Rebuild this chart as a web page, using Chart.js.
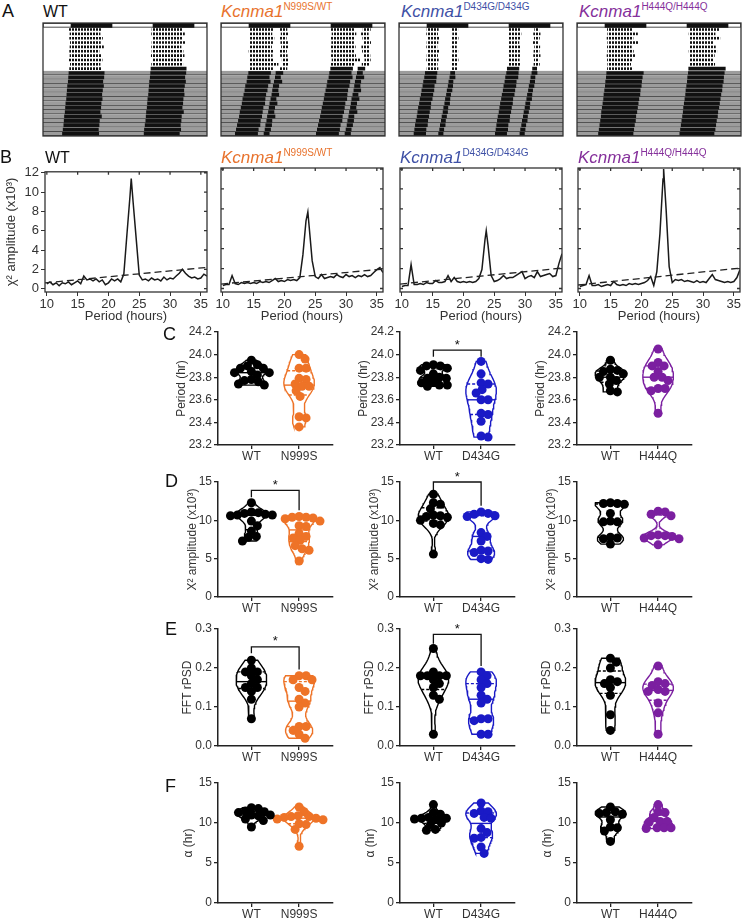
<!DOCTYPE html>
<html>
<head>
<meta charset="utf-8">
<title>Kcnma1 circadian behaviour</title>
<script src="https://cdn.jsdelivr.net/npm/chart.js@4.4.1/dist/chart.umd.min.js"></script>
<style>
  html, body { margin: 0; background: #fff; }
  #fig { position: relative; width: 743px; height: 919px; overflow: hidden; font-family: 'Liberation Sans', Arial, sans-serif; }
  #fig canvas { position: absolute; }
  .t { position: absolute; white-space: nowrap; line-height: 1; }
  .t sup { font-style: normal; font-size: 10px; vertical-align: 0; position: relative; top: -7px; }
</style>
</head>
<body>
<div id="fig"></div>
<script>
const FONT = "'Liberation Sans', Arial, sans-serif";
Chart.defaults.font.family = FONT;
Chart.defaults.color = '#333';

// genotypes
const genoLabels = ['N999S/WT', 'D434G/D434G', 'H444Q/H444Q'];
const titleColors = ['#e8732e', '#3f51a6', '#85309b'];
const mutants = ['N999S', 'D434G', 'H444Q'];
const mutColors = ['#ee7327', '#1a1ac6', '#7b1fa0'];

// ---- A: actograms (hours of activity onset / offset per day, 10 LD then DD)
const ldDays = 10;
const darkStart = [8.2, 32.2];
const darkEnd = [20.2, 44.2];

const wtOn  = [7.6, 7.8, 7.7, 7.9, 7.8, 7.7, 7.8, 7.6, 7.9, 7.7, 7.5, 7.4, 7.3, 7.1, 7.0, 6.9, 6.8, 6.6, 6.5, 6.4, 6.2, 6.1, 6.0, 5.8, 5.6, 5.5];
const wtOff = [17.2, 16.8, 17.5, 16.9, 17.8, 16.5, 17.1, 17.4, 16.8, 17.0, 18.0, 17.9, 17.6, 17.8, 17.5, 17.3, 17.4, 17.1, 17.0, 16.8, 17.2, 16.6, 16.5, 16.3, 16.4, 16.0];

const n999On  = [8.3, 8.2, 8.4, 8.2, 8.3, 8.1, 8.3, 8.2, 8.4, 8.2, 8.0, 7.7, 7.5, 7.1, 6.9, 6.6, 6.3, 6.1, 5.8, 5.5, 5.3, 5.0, 4.7, 4.4, 4.1, 3.8];
const n999Off = [15.3, 15.0, 15.6, 15.2, 14.9, 15.4, 15.1, 15.5, 16.8, 15.2, 14.6, 14.2, 14.5, 13.8, 13.6, 13.2, 13.0, 12.9, 12.4, 12.2, 12.0, 11.6, 11.5, 11.0, 10.8, 10.5];
const n999On2  = [17.2, 17.5, 17.0, 17.4, 17.6, 17.1, 17.3, 17.8, 18.0, 17.2, 16.0, 15.8, 15.5, 15.2, 15.0, 14.8, 14.5, 14.2, 14.0, 13.8, 13.5, 13.3, 13.0, 12.8, 12.5, 12.2];
const n999Off2 = [19.4, 19.8, 19.2, 19.6, 19.9, 19.3, 19.5, 19.7, 19.8, 19.4, 18.2, 17.5, 17.9, 17.0, 16.8, 17.0, 16.2, 16.5, 15.8, 15.6, 15.9, 15.0, 14.9, 14.6, 14.2, 14.0];

const d434On  = [8.1, 8.0, 8.2, 8.1, 8.0, 8.2, 8.1, 8.0, 8.2, 8.1, 7.6, 7.4, 7.1, 6.9, 6.6, 6.4, 6.1, 5.9, 5.6, 5.4, 5.2, 4.9, 4.7, 4.5, 4.3, 4.1];
const d434Off = [11.6, 11.4, 11.8, 11.5, 11.2, 11.7, 11.4, 11.6, 11.3, 11.5, 11.2, 11.0, 10.9, 10.4, 10.3, 10.0, 9.8, 9.4, 9.3, 9.0, 8.8, 8.5, 8.4, 8.0, 7.9, 7.6];
const d434On2  = [15.4, 15.6, 15.3, 15.5, 15.2, 15.6, 15.4, 15.3, 15.5, 15.4, 15.0, 14.8, 14.5, 14.3, 14.0, 13.8, 13.5, 13.3, 13.0, 12.8, 12.5, 12.3, 12.0, 11.8, 11.5, 11.3];
const d434Off2 = [17.3, 17.0, 17.4, 17.2, 16.9, 17.3, 17.1, 17.4, 17.0, 17.2, 16.4, 16.5, 15.9, 15.8, 15.6, 15.2, 15.0, 14.9, 14.4, 14.3, 14.0, 13.7, 13.6, 13.2, 13.0, 12.8];

const h444On  = [8.8, 8.9, 8.7, 8.9, 8.8, 8.9, 8.7, 8.8, 8.9, 8.8, 8.6, 8.5, 8.3, 8.2, 8.0, 7.8, 7.7, 7.5, 7.3, 7.1, 7.0, 6.8, 6.6, 6.4, 6.2, 6.0];
const h444Off = [16.2, 17.8, 16.5, 17.9, 16.0, 16.6, 17.0, 16.3, 15.8, 16.4, 19.5, 19.2, 19.0, 18.9, 18.6, 18.5, 18.2, 18.0, 17.8, 17.6, 17.3, 17.2, 16.9, 16.7, 16.5, 16.2];

// ---- B: chi-square periodograms
const periods = [10, 10.5, 11, 11.5, 12, 12.5, 13, 13.5, 14, 14.5,
                 15, 15.5, 16, 16.5, 17, 17.5, 18, 18.5, 19, 19.5,
                 20, 20.5, 21, 21.5, 22, 22.5, 23, 23.5, 24, 24.5,
                 25, 25.5, 26, 26.5, 27, 27.5, 28, 28.5, 29, 29.5,
                 30, 30.5, 31, 31.5, 32, 32.5, 33, 33.5, 34, 34.5,
                 35, 35.5, 36];
const wtAmp = [0.5, 0.7, 0.4, 0.6, 0.3, 0.6, 0.5, 0.7, 0.4, 0.6,
               0.8, 0.5, 1.3, 0.9, 1.0, 0.8, 1.0, 0.7, 0.9, 0.4,
               0.6, 1.0, 0.8, 1.0, 0.7, 1.5, 5.6, 9.6, 9.0, 5.2,
               1.4, 0.9, 1.0, 0.8, 1.1, 0.9, 1.0, 0.8, 1.2, 0.9,
               1.1, 1.0, 1.3, 1.6, 2.0, 1.6, 1.3, 1.1, 1.2, 1.0,
               1.1, 1.5, 1.3];
const n999Amp = [0.3, 0.4, 0.4, 1.3, 0.5, 0.4, 0.6, 0.5, 0.6, 0.5,
                 0.6, 0.5, 0.7, 0.6, 0.7, 0.6, 0.8, 1.0, 0.7, 0.8,
                 0.7, 0.9, 0.8, 0.9, 0.8, 1.1, 3.4, 6.8, 6.3, 2.8,
                 1.2, 1.0, 1.4, 1.0, 1.1, 1.2, 1.1, 1.4, 1.2, 1.1,
                 1.4, 1.2, 1.3, 1.1, 1.3, 1.2, 1.4, 1.2, 1.3, 1.6,
                 1.9, 2.1, 1.6];
const d434Amp = [0.2, 0.3, 0.3, 2.4, 0.4, 0.4, 0.5, 0.4, 0.6, 0.5,
                 0.5, 0.8, 0.6, 0.6, 0.7, 1.3, 0.7, 1.1, 0.7, 0.6,
                 0.7, 0.6, 0.7, 0.6, 0.7, 1.0, 1.9, 4.9, 4.3, 1.3,
                 0.7, 0.8, 1.0, 1.3, 1.0, 1.1, 1.1, 1.3, 1.5, 1.7,
                 1.0, 1.2, 1.3, 1.1, 1.7, 1.2, 1.3, 1.4, 1.5, 1.2,
                 1.3, 2.5, 3.5];
const h444Amp = [0.2, 0.3, 0.4, 1.3, 0.3, 0.3, 0.4, 0.2, 0.3, 0.4,
                 0.3, 0.7, 0.4, 0.3, 0.4, 0.3, 0.5, 0.4, 0.5, 0.4,
                 0.5, 0.6, 0.8, 1.2, 0.3, 1.7, 5.5, 11.0, 8.0, 2.2,
                 0.6, 0.9, 0.8, 0.9, 0.7, 0.8, 0.7, 0.6, 0.8, 0.6,
                 0.7, 0.6, 1.0, 1.4, 0.9, 0.8, 0.7, 0.6, 0.7, 0.6,
                 0.7, 1.1, 1.9];
const peakPeriod = [23.7, 23.8, 23.7, 23.6];
const peakAmp = [11.4, 7.7, 5.8, 12.0];
const sigPeriods = [9.7, 36];
const sigLow = [0.6, 0.45, 0.45, 0.35];
const sigHigh = [2.2, 1.95, 2.05, 2.05];
const periodTicks = [10, 15, 20, 25, 30, 35];
const ampTicks = [0, 2, 4, 6, 8, 10, 12];

// ---- C-F: per-animal values, WT littermates then mutant
const periodWT  = [[23.95, 23.91, 23.90, 23.88, 23.88, 23.85, 23.84, 23.84, 23.82, 23.78, 23.77, 23.76, 23.74, 23.73],
                   [23.91, 23.90, 23.90, 23.88, 23.86, 23.83, 23.80, 23.79, 23.79, 23.76, 23.75, 23.73, 23.73, 23.72],
                   [23.95, 23.87, 23.86, 23.85, 23.83, 23.80, 23.80, 23.77, 23.74, 23.68, 23.67]];
const periodMut = [[24.00, 23.96, 23.88, 23.88, 23.79, 23.78, 23.74, 23.72, 23.72, 23.68, 23.63, 23.45, 23.44, 23.36],
                   [23.94, 23.83, 23.75, 23.74, 23.69, 23.66, 23.60, 23.60, 23.48, 23.47, 23.41, 23.28, 23.27],
                   [24.05, 23.93, 23.90, 23.90, 23.85, 23.80, 23.80, 23.77, 23.70, 23.70, 23.68, 23.48]];
const ampWT  = [[12.3, 11.1, 11.0, 10.9, 10.8, 10.7, 10.7, 10.6, 9.9, 9.3, 8.6, 7.9, 7.8, 7.3],
                [13.4, 12.3, 12.1, 11.5, 10.7, 10.6, 10.5, 10.4, 10.0, 9.6, 9.4, 5.6],
                [12.3, 12.2, 12.2, 12.1, 10.9, 9.9, 9.8, 9.8, 7.8, 7.7, 7.6, 6.9]];
const ampMut = [[10.5, 10.4, 10.4, 10.3, 10.2, 9.9, 9.3, 9.2, 8.3, 7.9, 7.7, 7.4, 6.7, 6.3, 6.1, 4.7],
                [11.1, 10.9, 10.8, 10.6, 10.5, 8.4, 7.9, 7.3, 6.1, 6.0, 5.8, 5.0, 4.9],
                [11.2, 11.1, 10.8, 10.6, 8.1, 8.0, 8.0, 7.9, 7.7, 7.6, 6.8]];
const fftWT  = [[0.22, 0.20, 0.19, 0.19, 0.18, 0.17, 0.16, 0.15, 0.15, 0.14, 0.12, 0.07],
                [0.25, 0.19, 0.18, 0.18, 0.18, 0.18, 0.17, 0.16, 0.15, 0.13, 0.12, 0.03],
                [0.225, 0.215, 0.20, 0.17, 0.165, 0.16, 0.15, 0.13, 0.08, 0.04]];
const fftMut = [[0.18, 0.18, 0.17, 0.17, 0.15, 0.14, 0.12, 0.11, 0.10, 0.05, 0.05, 0.04, 0.03, 0.02],
                [0.19, 0.18, 0.17, 0.16, 0.15, 0.13, 0.12, 0.11, 0.07, 0.07, 0.065, 0.03, 0.03],
                [0.205, 0.165, 0.16, 0.155, 0.145, 0.14, 0.14, 0.11, 0.085, 0.03]];
const alphaWT  = [[11.9, 11.8, 11.5, 11.4, 11.3, 11.0, 11.0, 10.9, 10.5, 10.3, 9.5],
                  [12.3, 11.3, 11.1, 10.7, 10.6, 10.6, 10.5, 10.4, 10.0, 9.8, 9.2, 9.1],
                  [12.0, 11.4, 11.3, 11.2, 11.1, 10.4, 9.5, 9.4, 9.0, 7.7]];
const alphaMut = [[12.0, 11.4, 10.9, 10.8, 10.8, 10.7, 10.6, 10.5, 10.4, 9.9, 9.8, 9.2, 7.1],
                  [12.5, 11.5, 11.4, 11.2, 10.7, 10.6, 9.3, 8.8, 8.2, 8.1, 7.0, 6.2],
                  [12.3, 11.4, 11.3, 10.7, 10.2, 10.2, 10.1, 9.4, 9.4, 9.4, 9.3]];

// significance brackets: [bar level, WT end, mutant end]
const bracketsC = [null, [24.04, 23.98, 23.98], null];
const bracketsD = [[13.9, 13.0, 11.3], [15.0, 13.8, 11.9], null];
const bracketsE = [[0.254, 0.238, 0.196], [0.286, 0.262, 0.205], null];
const bracketsF = [null, null, null];

const periodHrTicks = [23.2, 23.4, 23.6, 23.8, 24.0, 24.2];
const fiveTicks = [0, 5, 10, 15];
const fftTicks = [0.0, 0.1, 0.2, 0.3];

// ---------------------------------------------------------------
const fig = document.getElementById('fig');

function makeCanvas(left, top, w, h) {
  const c = document.createElement('canvas');
  c.width = w; c.height = h;
  c.style.left = left + 'px'; c.style.top = top + 'px';
  c.style.width = w + 'px'; c.style.height = h + 'px';
  fig.appendChild(c);
  return c;
}

function addText(html, left, top, size, color) {
  const d = document.createElement('div');
  d.className = 't';
  d.innerHTML = html;
  d.style.left = left + 'px';
  d.style.top = top + 'px';
  d.style.fontSize = size + 'px';
  d.style.color = color;
  fig.appendChild(d);
}

function geneTitle(i) {
  return '<i>Kcnma1</i><sup>' + genoLabels[i] + '</sup>';
}

// frame around a plot area, optional inward ticks
function frame(opts) {
  return {
    id: 'frame',
    afterDatasetsDraw(chart) {
      const {ctx, chartArea: a} = chart;
      ctx.save();
      ctx.strokeStyle = opts.color;
      ctx.lineWidth = opts.width;
      ctx.strokeRect(a.left, a.top, a.right - a.left, a.bottom - a.top);
      if (opts.yTicks) {
        const y = chart.scales.y;
        ctx.beginPath();
        opts.yTicks.forEach(v => {
          const py = y.getPixelForValue(v);
          if (opts.leftIn) { ctx.moveTo(a.left, py); ctx.lineTo(a.left + 3, py); }
          ctx.moveTo(a.right, py); ctx.lineTo(a.right - 3, py);
        });
        const x = chart.scales.x;
        opts.xTicks.forEach(v => {
          const px = x.getPixelForValue(v);
          ctx.moveTo(px, a.top); ctx.lineTo(px, a.top + 3);
        });
        ctx.stroke();
      }
      ctx.restore();
    }
  };
}

// ---------------- A: actograms ----------------
const stripe = document.createElement('canvas');
stripe.width = 3; stripe.height = 4;
const sctx = stripe.getContext('2d');
sctx.fillStyle = '#111';
sctx.fillRect(0, 0, 2, 4);

function actogram(left, on, off, on2, off2) {
  const rows = ['LD'];
  for (let d = 1; d <= 25; d++) rows.push('day ' + d);
  const empty = () => rows.map(() => null);

  const ldBar = empty(); ldBar[0] = [0, 48];
  const dark1 = empty(); dark1[0] = [darkStart[0], darkEnd[0]];
  const dark2 = empty(); dark2[0] = [darkStart[1], darkEnd[1]];
  const grey = empty();
  for (let r = ldDays + 1; r < rows.length; r++) grey[r] = [0, 48];

  const datasets = [
    {data: ldBar, backgroundColor: '#fff', borderColor: '#222', borderWidth: 1, barPercentage: 1, order: 9},
    {data: dark1, backgroundColor: '#111', barPercentage: 1, order: 8},
    {data: dark2, backgroundColor: '#111', barPercentage: 1, order: 8},
    {data: grey, backgroundColor: '#9c9c9c', borderColor: '#3a3a3a',
     borderWidth: {top: 0, right: 0, bottom: 1, left: 0}, barPercentage: 1, order: 7}
  ];

  function addBouts(a, b) {
    const ldL = empty(), ddL = empty(), ldR = empty(), ddR = empty();
    for (let r = 1; r < rows.length; r++) {
      const d = r - 1;
      (d < ldDays ? ldL : ddL)[r] = [a[d], b[d]];
      (d + 1 < ldDays ? ldR : ddR)[r] = [24 + a[d + 1], 24 + b[d + 1]];
    }
    const pat = ctx => ctx.chart.ctx.createPattern(stripe, 'repeat');
    datasets.push({data: ldL, backgroundColor: pat, barPercentage: 0.6, order: 1});
    datasets.push({data: ldR, backgroundColor: pat, barPercentage: 0.6, order: 1});
    datasets.push({data: ddL, backgroundColor: '#111', barPercentage: 0.85, order: 1});
    datasets.push({data: ddR, backgroundColor: '#111', barPercentage: 0.85, order: 1});
  }
  addBouts(on, off);
  if (on2) addBouts(on2, off2);

  datasets.forEach(ds => {
    ds.categoryPercentage = 1;
    ds.grouped = false;
    ds.borderSkipped = false;
    if (ds.borderWidth === undefined) ds.borderWidth = 0;
  });

  const c = makeCanvas(left - 1, 22, 166, 115);
  new Chart(c, {
    type: 'bar',
    data: {labels: rows, datasets: datasets},
    options: {
      indexAxis: 'y',
      responsive: false,
      animation: false,
      devicePixelRatio: 1,
      layout: {padding: 1},
      scales: {
        x: {type: 'linear', min: 0, max: 48, display: false},
        y: {display: false}
      },
      plugins: {legend: {display: false}, tooltip: {enabled: false}}
    },
    plugins: [frame({color: '#333', width: 1.3})]
  });
}

actogram(43, wtOn, wtOff);
actogram(221, n999On, n999Off, n999On2, n999Off2);
actogram(399, d434On, d434Off, d434On2, d434Off2);
actogram(577, h444On, h444Off);

// ---------------- B: periodograms ----------------
const traces = [wtAmp, n999Amp, d434Amp, h444Amp];
const plotLefts = [45, 221, 400, 578];

traces.forEach((amps, i) => {
  const first = i === 0;
  const pts = periods.map((p, k) => ({x: p, y: amps[k]}));
  pts.push({x: peakPeriod[i], y: peakAmp[i]});
  pts.sort((a, b) => a.x - b.x);

  const yW = first ? 45 : 0;
  const padL = first ? 0 : 12;
  const c = makeCanvas(plotLefts[i] - yW - padL, 162, yW + padL + 162 + 12, 6 + 124 + 32);
  new Chart(c, {
    type: 'scatter',
    data: {datasets: [
      {data: [{x: sigPeriods[0], y: sigLow[i]}, {x: sigPeriods[1], y: sigHigh[i]}],
       showLine: true, borderColor: '#222', borderWidth: 1.3, borderDash: [7, 4], pointRadius: 0, order: 0},
      {data: pts, showLine: true, borderColor: '#1a1a1a', borderWidth: 1.5, pointRadius: 0, order: 1}
    ]},
    options: {
      responsive: false,
      animation: false,
      devicePixelRatio: 1,
      layout: {padding: {left: padL, right: 12, top: 6, bottom: 0}},
      scales: {
        x: {
          type: 'linear', min: 9.7, max: 36,
          afterBuildTicks: s => { s.ticks = periodTicks.map(v => ({value: v})); },
          ticks: {autoSkip: false, maxRotation: 0, padding: 1, color: '#333', font: {size: 13}},
          grid: {drawOnChartArea: false, tickLength: 4, color: '#333'},
          border: {display: false},
          title: {display: true, text: 'Period (hours)', color: '#333', font: {size: 13}, padding: 0},
          afterFit: s => { s.height = 32; }
        },
        y: {
          display: first,
          min: -0.35, max: 12.1,
          afterBuildTicks: s => { s.ticks = ampTicks.map(v => ({value: v})); },
          ticks: {padding: 2, color: '#333', font: {size: 13}},
          grid: {drawOnChartArea: false, tickLength: 4, color: '#333'},
          border: {display: false},
          title: {display: true, text: 'χ² amplitude (x10³)', color: '#333', font: {size: 13}, padding: {top: 4, bottom: 0}},
          afterFit: s => { s.width = yW; }
        }
      },
      plugins: {legend: {display: false}, tooltip: {enabled: false}}
    },
    plugins: [frame({color: '#333', width: 1.3, yTicks: ampTicks, xTicks: periodTicks, leftIn: !first})]
  });
});

// ---------------- C-F: violin plots ----------------
const HALF = 0.32;
const X_MIN = -0.7, X_MAX = 1.7;
const YW = 70, AW = 115, PADT = 22, XH = 20;
const violinCols = [218, 400, 577];
const violinRows = [
  {wt: periodWT, mut: periodMut, ticks: periodHrTicks, dec: 1, title: 'Period (hr)', top: 332, bottom: 445, titleOff: 36, brackets: bracketsC},
  {wt: ampWT, mut: ampMut, ticks: fiveTicks, dec: 0, title: 'X² amplitude (x10³)', top: 482, bottom: 597, titleOff: 25, brackets: bracketsD},
  {wt: fftWT, mut: fftMut, ticks: fftTicks, dec: 1, title: 'FFT rPSD', top: 629, bottom: 746, titleOff: 30, brackets: bracketsE},
  {wt: alphaWT, mut: alphaMut, ticks: fiveTicks, dec: 0, title: 'α (hr)', top: 783, bottom: 903, titleOff: 29, brackets: bracketsF}
];

function profile(vals) {
  const lo = Math.min(...vals), hi = Math.max(...vals);
  const span = hi - lo;
  const h = span * 0.13;
  const pts = [];
  for (let i = 0; i <= 40; i++) {
    const y = lo + span * i / 40;
    let d = 0;
    vals.forEach(v => { d += Math.exp(-0.5 * ((y - v) / h) ** 2); });
    pts.push({y: y, d: d});
  }
  const m = Math.max(...pts.map(p => p.d));
  return pts.map(p => ({y: p.y, w: HALF * p.d / m}));
}

function widthAt(prof, v) {
  for (let i = 1; i < prof.length; i++) {
    if (v <= prof[i].y) {
      const a = prof[i - 1], b = prof[i];
      const t = (v - a.y) / ((b.y - a.y) || 1);
      return a.w + t * (b.w - a.w);
    }
  }
  return prof[prof.length - 1].w;
}

function quantile(vals, q) {
  const s = [...vals].sort((a, b) => a - b);
  const pos = (s.length - 1) * q;
  const i = Math.floor(pos);
  const f = pos - i;
  return s[i] + (s[Math.min(i + 1, s.length - 1)] - s[i]) * f;
}

// simple beeswarm, offsets in px
function swarm(vals, unitsPerPx, minD) {
  const placed = [];
  const offs = new Array(vals.length).fill(0);
  const order = vals.map((_, i) => i).sort((a, b) => vals[b] - vals[a]);
  order.forEach(i => {
    const py = vals[i] / unitsPerPx;
    for (let k = 0; k < 400; k++) {
      const dx = k === 0 ? 0 : (k % 2 ? 1 : -1) * Math.ceil(k / 2);
      if (placed.every(p => (p.x - dx) ** 2 + (p.y - py) ** 2 >= minD * minD)) {
        placed.push({x: dx, y: py});
        offs[i] = dx;
        break;
      }
    }
  });
  return offs;
}

function starMark(level) {
  return {
    id: 'star',
    afterDatasetsDraw(chart) {
      if (!level) return;
      const {ctx, scales: {x, y}} = chart;
      ctx.save();
      ctx.fillStyle = '#111';
      ctx.font = '13px ' + FONT;
      ctx.textAlign = 'center';
      ctx.textBaseline = 'alphabetic';
      ctx.fillText('*', (x.getPixelForValue(0) + x.getPixelForValue(1)) / 2, y.getPixelForValue(level[0]) - 1.5);
      ctx.restore();
    }
  };
}

function violinChart(col, r) {
  const row = violinRows[r];
  const axisX = violinCols[col];
  const H = row.bottom - row.top;
  const yMin = row.ticks[0], yMax = row.ticks[row.ticks.length - 1];
  const yPerPx = (yMax - yMin) / H;
  const xPerPx = (X_MAX - X_MIN) / AW;
  const groups = [
    {label: 'WT', values: row.wt[col], color: '#000'},
    {label: mutants[col], values: row.mut[col], color: mutColors[col]}
  ];
  const datasets = [];
  groups.forEach((g, gi) => {
    const prof = profile(g.values);
    const right = prof.map(p => ({x: gi + p.w, y: p.y}));
    const left = prof.map(p => ({x: gi - p.w, y: p.y})).reverse();
    datasets.push({data: right.concat(left, [right[0]]), showLine: true, borderColor: g.color,
                   borderWidth: 1.4, pointRadius: 0, order: 3});
    [0.25, 0.5, 0.75].forEach(q => {
      const v = quantile(g.values, q);
      const w = widthAt(prof, v);
      datasets.push({data: [{x: gi - w, y: v}, {x: gi + w, y: v}], showLine: true, borderColor: g.color,
                     borderWidth: 1.4, borderDash: q === 0.5 ? [] : [3, 2], pointRadius: 0, order: 2});
    });
    const offs = swarm(g.values, yPerPx, 6.8);
    datasets.push({data: g.values.map((v, i) => ({x: gi + offs[i] * xPerPx, y: v})),
                   pointRadius: 4.5, pointBackgroundColor: g.color, pointBorderWidth: 0, order: 0});
  });
  const br = row.brackets[col];
  if (br) {
    datasets.push({data: [{x: 0, y: br[1]}, {x: 0, y: br[0]}, {x: 1, y: br[0]}, {x: 1, y: br[2]}],
                   showLine: true, borderColor: '#111', borderWidth: 1.3, pointRadius: 0, order: 4});
  }
  datasets.forEach(ds => { ds.clip = false; });

  const c = makeCanvas(axisX - YW, row.top - PADT, YW + AW + 4, H + PADT + XH);
  new Chart(c, {
    type: 'scatter',
    data: {datasets: datasets},
    options: {
      responsive: false,
      animation: false,
      devicePixelRatio: 1,
      layout: {padding: {top: PADT, right: 4, left: 0, bottom: 0}},
      scales: {
        x: {
          type: 'linear', min: X_MIN, max: X_MAX,
          afterBuildTicks: s => { s.ticks = [{value: 0}, {value: 1}]; },
          ticks: {autoSkip: false, maxRotation: 0, padding: 0, color: '#333', font: {size: 12},
                  callback: v => groups[Math.round(v)].label},
          grid: {drawOnChartArea: false, tickLength: 4, color: '#222', lineWidth: 1.3},
          border: {display: true, color: '#222', width: 1.5},
          afterFit: s => { s.height = XH; }
        },
        y: {
          min: yMin, max: yMax,
          afterBuildTicks: s => { s.ticks = row.ticks.map(v => ({value: v})); },
          ticks: {padding: 2, color: '#333', font: {size: 12}, callback: v => v.toFixed(row.dec)},
          grid: {drawOnChartArea: false, tickLength: 4, color: '#222', lineWidth: 1.3},
          border: {display: true, color: '#222', width: 1.5},
          title: {display: true, text: row.title, color: '#333', font: {size: 12},
                  padding: {top: YW - row.titleOff - 7.2, bottom: 0}},
          afterFit: s => { s.width = YW; }
        }
      },
      plugins: {legend: {display: false}, tooltip: {enabled: false}}
    },
    plugins: [starMark(br)]
  });
}

for (let r = 0; r < 4; r++) for (let col = 0; col < 3; col++) violinChart(col, r);

// ---------------- text: panel letters and titles ----------------
addText('A', 2, 2, 18, '#111');
addText('WT', 43, 3.5, 16, '#111');
addText('B', 0, 148, 18, '#111');
addText('WT', 45, 149.5, 16, '#111');
[221, 401, 579].forEach((x, i) => addText(geneTitle(i), x, 2.6, 17, titleColors[i]));
[221, 400, 578].forEach((x, i) => addText(geneTitle(i), x, 148.6, 17, titleColors[i]));
addText('C', 163, 325, 18, '#111');
addText('D', 165, 472, 18, '#111');
addText('E', 165, 620, 18, '#111');
addText('F', 165, 777, 18, '#111');
</script>
</body>
</html>
